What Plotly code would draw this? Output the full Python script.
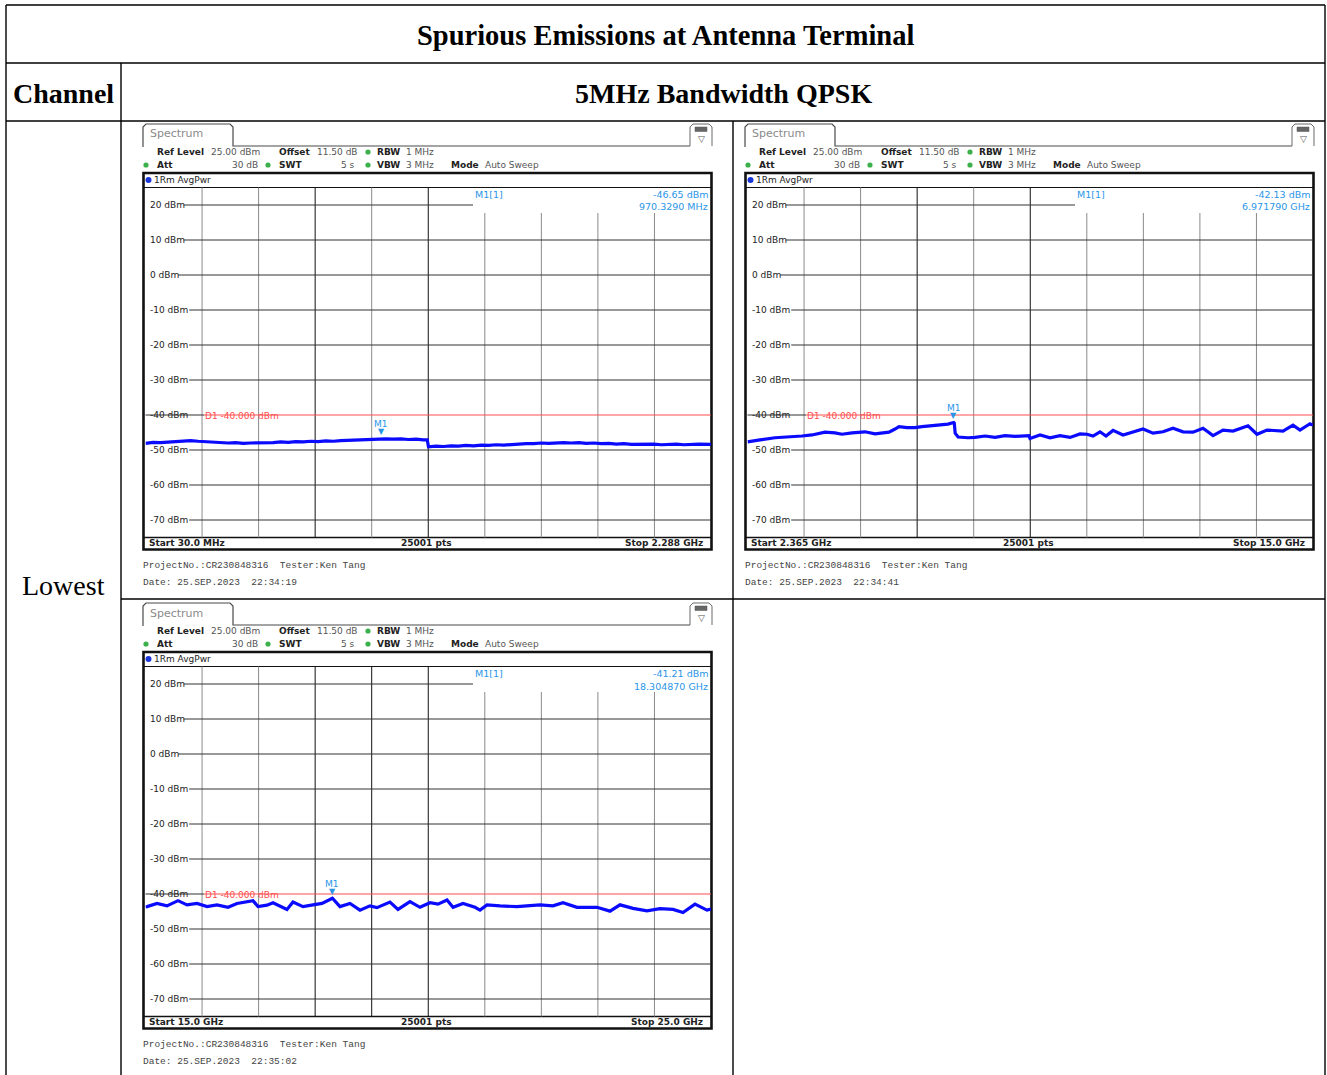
import plotly.graph_objects as go

W, H = 1327, 1075

# ------------------------------------------------------------------ data
table_title = "Spurious Emissions at Antenna Terminal"
col_header = "Channel"
band_header = "5MHz Bandwidth QPSK"
row_label = "Lowest"

ytick_levels = [20, 10, 0, -10, -20, -30, -40, -50, -60, -70]
ref_level_top = 25
ref_level_bottom = -75
display_line_dbm = -40.0

# Panel 1 : 30 MHz - 2.288 GHz (MHz)
p1_freq = [30, 60, 90, 120, 150, 180, 210, 240, 270, 300, 330, 360, 390, 420, 450,
           480, 510, 540, 570, 600, 630, 660, 690, 720, 750, 780, 810, 840, 870, 900,
           930, 960, 970.329, 990, 1020, 1050, 1080, 1110, 1140, 1155, 1160, 1190, 1220,
           1250, 1280, 1310, 1340, 1370, 1400, 1430, 1460, 1490, 1520, 1550, 1580, 1610,
           1640, 1670, 1700, 1730, 1760, 1790, 1820, 1850, 1880, 1910, 1940, 1970, 2000,
           2030, 2060, 2090, 2120, 2150, 2180, 2210, 2240, 2288]
p1_level = [-48.1, -47.8, -47.9, -47.7, -47.6, -47.4, -47.3, -47.5, -47.6, -47.9, -47.8, -48.0,
            -47.9, -48.1, -48.0, -48.0, -47.8, -47.9, -47.7, -47.8, -47.6, -47.7, -47.5, -47.6,
            -47.4, -47.5, -47.3, -47.2, -47.2, -47.0, -46.9, -46.8, -46.65, -46.8, -46.9, -46.8,
            -47.0, -46.9, -47.1, -47.1, -49.1, -48.9, -49.0, -48.8, -48.9, -48.7, -48.8, -48.6,
            -48.7, -48.5, -48.6, -48.4, -48.4, -48.2, -48.2, -48.0, -48.1, -47.9, -47.9, -48.0,
            -47.9, -48.1, -48.0, -48.2, -48.1, -48.3, -48.2, -48.4, -48.3, -48.4, -48.3, -48.5,
            -48.4, -48.3, -48.5, -48.4, -48.3, -48.4]

# Panel 2 : 2.365 GHz - 15 GHz (GHz)
p2_freq = [2.365, 2.399, 2.644, 2.979, 3.314, 3.583, 3.806, 4.097, 4.320, 4.476, 4.700, 4.990,
           5.214, 5.370, 5.526, 5.661, 5.750, 5.929, 6.107, 6.264, 6.420, 6.577, 6.711, 6.845,
           6.97179, 6.985, 7.005, 7.070, 7.292, 7.449, 7.672, 7.896, 8.118, 8.342, 8.655,
           8.677, 8.901, 9.124, 9.347, 9.571, 9.794, 9.951, 10.085, 10.241, 10.375, 10.532,
           10.755, 10.979, 11.202, 11.425, 11.649, 11.872, 12.096, 12.319, 12.543, 12.766,
           12.989, 13.213, 13.548, 13.749, 13.972, 14.330, 14.553, 14.710, 14.933, 15.000]
p2_level = [-47.7, -47.6, -47.1, -46.5, -46.3, -46.0, -45.7, -44.9, -45.1, -45.5, -45.1, -44.8,
            -45.4, -45.1, -44.9, -44.0, -43.3, -43.6, -43.6, -43.3, -43.1, -43.0, -42.7, -42.6,
            -42.13, -42.3, -45.2, -46.3, -46.5, -46.4, -46.0, -46.4, -45.9, -46.1, -45.9,
            -46.7, -45.7, -46.5, -45.9, -46.4, -45.4, -45.5, -46.0, -44.8, -46.0, -44.4,
            -45.7, -44.9, -44.0, -45.2, -44.8, -43.8, -44.8, -44.9, -43.8, -45.9,
            -44.3, -44.6, -43.1, -45.5, -44.3, -44.6, -42.9, -44.3, -42.5, -42.9]

# Panel 3 : 15 GHz - 25 GHz (GHz)
p3_freq = [15.000, 15.027, 15.203, 15.380, 15.575, 15.734, 15.911, 16.088, 16.264, 16.459,
           16.618, 16.795, 16.901, 16.989, 17.149, 17.255, 17.378, 17.502, 17.608, 17.785,
           17.962, 18.121, 18.30487, 18.439, 18.616, 18.793, 18.969, 19.093, 19.323, 19.465,
           19.677, 19.854, 20.031, 20.172, 20.332, 20.385, 20.438, 20.615, 20.827, 20.915,
           21.039, 21.269, 21.569, 21.799, 21.976, 22.206, 22.383, 22.630, 22.984, 23.214,
           23.391, 23.621, 23.868, 24.098, 24.328, 24.505, 24.717, 24.929, 25.000]
p3_level = [-43.7, -43.6, -42.7, -43.4, -41.9, -43.1, -42.7, -43.6, -43.1, -43.8,
            -42.7, -42.3, -41.9, -43.6, -43.2, -42.5, -43.4, -44.4, -42.3, -43.6,
            -43.1, -42.7, -41.21, -43.6, -42.7, -44.6, -43.4, -43.9, -42.3, -44.4,
            -42.2, -43.8, -42.5, -42.9, -41.7, -42.7, -43.8, -42.7, -43.8, -44.6,
            -43.1, -43.4, -43.6, -43.3, -43.1, -43.4, -42.5, -43.8, -43.8, -44.9,
            -43.1, -44.1, -44.8, -44.2, -44.4, -45.3, -42.9, -44.6, -44.3]

panel_start = [30, 2.365, 15.0]
panel_stop = [2288, 15.0, 25.0]
start_labels = ["Start 30.0 MHz", "Start 2.365 GHz", "Start 15.0 GHz"]
stop_labels = ["Stop 2.288 GHz", "Stop 15.0 GHz", "Stop 25.0 GHz"]
marker_freq = [970.329, 6.97179, 18.30487]
marker_level = [-46.65, -42.13, -41.21]
marker_level_text = ["-46.65 dBm", "-42.13 dBm", "-41.21 dBm"]
marker_freq_text = ["970.3290 MHz", "6.971790 GHz", "18.304870 GHz"]
date_texts = ["22:34:19", "22:34:41", "22:35:02"]
points_label = "25001 pts"

# ------------------------------------------------------------------ helpers
def px(x):
    return x / W


def py(y):
    return 1 - y / H


shapes = []
annotations = []
NB = "\u00a0"


def line(x0, y0, x1, y1, color="#000", width=1, **kw):
    shapes.append(dict(type="line", xref="paper", yref="paper", x0=px(x0), y0=py(y0),
                       x1=px(x1), y1=py(y1), line=dict(color=color, width=width),
                       layer="below", **kw))


def rect(x0, y0, x1, y1, color="#000", width=1, fill="rgba(0,0,0,0)"):
    shapes.append(dict(type="rect", xref="paper", yref="paper", x0=px(x0), y0=py(y1),
                       x1=px(x1), y1=py(y0), line=dict(color=color, width=width),
                       fillcolor=fill, layer="below"))


def circle(cx, cy, r, fill):
    shapes.append(dict(type="circle", xref="paper", yref="paper", x0=px(cx - r), x1=px(cx + r),
                       y0=py(cy + r), y1=py(cy - r), line=dict(width=0), fillcolor=fill,
                       layer="above"))


def text(x, y, s, size=9, color="#222", anchor="left", family="DejaVu Sans", **kw):
    annotations.append(dict(xref="paper", yref="paper", x=px(x), y=py(y), text=s,
                            showarrow=False, xanchor=anchor, yanchor="middle",
                            borderpad=0, font=dict(family=family, size=size, color=color), **kw))


def path(points, color, width):
    d = "M " + " L ".join(f"{px(a):.6f},{py(b):.6f}" for a, b in points)
    shapes.append(dict(type="path", xref="paper", yref="paper", path=d,
                       line=dict(color=color, width=width), layer="below"))


# ------------------------------------------------------------------ table
TL = 1.4
line(6, 5, 1325, 5, width=TL)
line(6, 5, 6, 1075, width=TL)
line(1325, 5, 1325, 1075, width=TL)
line(6, 63, 1325, 63, width=TL)
line(6, 121, 1325, 121, width=TL)
line(121, 63, 121, 1075, width=TL)
line(733, 121, 733, 1075, width=TL)
line(121, 599, 1325, 599, width=TL)

SERIF = "Liberation Serif"
text(665, 35, f"<b>{table_title}</b>", size=28.5, color="#000", anchor="center", family=SERIF)
text(63, 93, f"<b>{col_header}</b>", size=28, color="#000", anchor="center", family=SERIF)
text(723, 93, f"<b>{band_header}</b>", size=28, color="#000", anchor="center", family=SERIF)
text(63, 585, row_label, size=28, color="#000", anchor="center", family=SERIF)

# ------------------------------------------------------------------ panels
series = [(p1_freq, p1_level), (p2_freq, p2_level), (p3_freq, p3_level)]
offsets = [(0, 0), (602, 0), (0, 479)]
dark_vlines = [{3, 5}, {3, 5}, {3, 4, 5}]
BLUE_M = "#2a95e8"
GREEN = "#3cb04a"
RED = "#ff4d4d"

fig = go.Figure()
layout_axes = {}

for k in range(3):
    dx, dy = offsets[k]
    xa = "x" if k == 0 else f"x{k + 1}"
    ya = "y" if k == 0 else f"y{k + 1}"
    xname = "xaxis" if k == 0 else f"xaxis{k + 1}"
    yname = "yaxis" if k == 0 else f"yaxis{k + 1}"
    gl, gr, gt, gb = 145.5 + dx, 711 + dx, 187.5 + dy, 537.5 + dy

    layout_axes[xname] = dict(domain=[px(gl), px(gr)], range=[panel_start[k], panel_stop[k]],
                              visible=False, anchor=ya)
    layout_axes[yname] = dict(domain=[py(gb), py(gt)], range=[ref_level_bottom, ref_level_top],
                              visible=False, anchor=xa)

    # tab + header line
    path([(143 + dx, 147 + dy), (143 + dx, 127 + dy), (146 + dx, 124 + dy), (230 + dx, 124 + dy),
          (233 + dx, 127 + dy), (233 + dx, 146 + dy), (690 + dx, 146 + dy)], "#4a4a4a", 1.2)
    text(149 + dx, 134 + dy, "Spectrum", size=11, color="#8a8a8a")
    # icon
    path([(690 + dx, 146 + dy), (690 + dx, 127 + dy), (693 + dx, 124 + dy), (709 + dx, 124 + dy),
          (712 + dx, 127 + dy), (712 + dx, 146 + dy)], "#6a6a6a", 1)
    rect(695 + dx, 127 + dy, 707 + dx, 131.5 + dy, color="#555", width=0.5, fill="#666")
    text(701 + dx, 139 + dy, "▽", size=9, color="#555", anchor="center")

    # header text
    r1, r2 = 152 + dy, 165 + dy
    text(156 + dx, r1, "<b>Ref Level</b>", size=9, color="#222")
    text(210 + dx, r1, "25.00 dBm", size=9, color="#555")
    text(278 + dx, r1, "<b>Offset</b>", size=9, color="#222")
    text(316 + dx, r1, "11.50 dB", size=9, color="#555")
    text(376 + dx, r1, "<b>RBW</b>", size=9, color="#222")
    text(405 + dx, r1, "1 MHz", size=9, color="#555")
    text(156 + dx, r2, "<b>Att</b>", size=9, color="#222")
    text(259 + dx, r2, "30 dB", size=9, color="#555", anchor="right")
    text(278 + dx, r2, "<b>SWT</b>", size=9, color="#222")
    text(356 + dx, r2, "5 s", size=9, color="#555", anchor="right")
    text(376 + dx, r2, "<b>VBW</b>", size=9, color="#222")
    text(405 + dx, r2, "3 MHz", size=9, color="#555")
    text(450 + dx, r2, "<b>Mode</b>", size=9, color="#222")
    text(484 + dx, r2, "Auto Sweep", size=9, color="#555")
    for (cx, cy) in [(146, 165), (268, 165), (368, 152), (368, 165)]:
        circle(cx + dx, cy + dy, 2.6, GREEN)

    # frame
    rect(143.5 + dx, 173 + dy, 711.5 + dx, 549.5 + dy, color="#111", width=2.6)
    line(143 + dx, gt, 711 + dx, gt, color="#111", width=1)
    line(143 + dx, gb, 711 + dx, gb, color="#111", width=1.3)
    circle(148.5 + dx, 180 + dy, 3, "#1a35d8")
    text(153 + dx, 180 + dy, "1Rm AvgPwr", size=9, color="#222")

    # vertical grid lines
    for i in range(1, 10):
        col = "#111" if i in dark_vlines[k] else "#8a8a8a"
        top = gt if i <= 5 else 213 + dy
        shapes.append(dict(type="line", xref=f"{xa} domain", yref="paper", x0=i / 10, x1=i / 10,
                           y0=py(gb), y1=py(top), line=dict(color=col, width=1), layer="below"))
    # horizontal grid lines + labels
    for lev in ytick_levels:
        lab = f"{lev} dBm"
        x_end = 473 + dx if lev == 20 else gr
        x_beg = 149 + dx + len(lab) * 5.6 + 1
        if lev == display_line_dbm:
            shapes.append(dict(type="line", xref="paper", yref=ya, x0=px(gl), x1=px(204 + dx),
                               y0=lev, y1=lev, line=dict(color="#333", width=1), layer="below"))
        else:
            shapes.append(dict(type="line", xref="paper", yref=ya, x0=px(x_beg), x1=px(x_end),
                               y0=lev, y1=lev, line=dict(color="#333", width=1), layer="below"))
        annotations.append(dict(xref="paper", yref=ya, x=px(149 + dx), y=lev, text=lab,
                                showarrow=False, xanchor="left", yanchor="middle", borderpad=0,
                                font=dict(family="DejaVu Sans", size=9, color="#222")))
    # display line D1
    shapes.append(dict(type="line", xref="paper", yref=ya, x0=px(204 + dx), x1=px(gr),
                       y0=display_line_dbm, y1=display_line_dbm,
                       line=dict(color=RED, width=1), layer="below"))
    annotations.append(dict(xref="paper", yref=ya, x=px(204 + dx), y=display_line_dbm,
                            text=f"D1{NB}{display_line_dbm:.3f} dBm", showarrow=False,
                            xanchor="left", yanchor="middle", borderpad=0, yshift=-1,
                            font=dict(family="DejaVu Sans", size=9, color=RED)))

    # marker info
    text(474 + dx, 194 + dy, "M1[1]", size=9.5, color=BLUE_M)
    text(709 + dx, 194 + dy, marker_level_text[k], size=9.5, color=BLUE_M, anchor="right")
    text(709 + dx, 207 + dy, marker_freq_text[k], size=9.5, color=BLUE_M, anchor="right")

    # trace
    f, lv = series[k]
    fig.add_trace(go.Scatter(x=f, y=lv, xaxis=xa, yaxis=ya, mode="lines",
                             line=dict(color="#0a0aff", width=3.2), hoverinfo="skip",
                             showlegend=False))
    # marker M1
    annotations.append(dict(xref=xa, yref=ya, x=marker_freq[k], y=marker_level[k], text="▼",
                            showarrow=False, xanchor="center", yanchor="bottom", yshift=1,
                            borderpad=0, font=dict(family="DejaVu Sans", size=8, color=BLUE_M)))
    annotations.append(dict(xref=xa, yref=ya, x=marker_freq[k], y=marker_level[k], text="M1",
                            showarrow=False, xanchor="center", yanchor="bottom", yshift=8,
                            borderpad=0, font=dict(family="DejaVu Sans", size=9, color=BLUE_M)))

    # bottom bar
    text(148 + dx, 543 + dy, f"<b>{start_labels[k]}</b>", size=9, color="#222")
    text(426 + dx, 543 + dy, f"<b>{points_label}</b>", size=9, color="#222", anchor="center")
    text(704 + dx, 543 + dy, f"<b>{stop_labels[k]}</b>", size=9, color="#222", anchor="right")

    # footer
    text(142 + dx, 565 + dy, f"ProjectNo.:CR230848316{NB}{NB}Tester:Ken{NB}Tang", size=9.5,
         color="#444", family="Liberation Mono")
    text(142 + dx, 582 + dy, f"Date:{NB}25.SEP.2023{NB}{NB}{date_texts[k]}", size=9.5,
         color="#444", family="Liberation Mono")

fig.update_layout(
    width=W, height=H,
    margin=dict(l=0, r=0, t=0, b=0),
    paper_bgcolor="white", plot_bgcolor="rgba(0,0,0,0)",
    shapes=shapes, annotations=annotations,
    showlegend=False,
    **layout_axes,
)

fig.write_html("out.html", config={"displayModeBar": False},
               post_script="document.body.style.margin='0';")
